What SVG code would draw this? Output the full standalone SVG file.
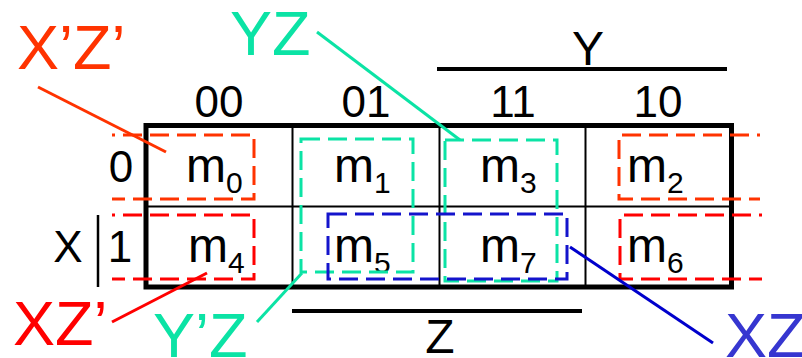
<svg xmlns="http://www.w3.org/2000/svg" width="802" height="358" viewBox="0 0 802 358">
<style>
text{font-family:"Liberation Sans",Arial,sans-serif;fill:#000}
.hd{font-size:44px;text-anchor:middle}
.vb{font-size:48px;text-anchor:middle}
.m{font-size:48px}
.sub{font-size:30px}
.lbl{font-size:63px}
.thick{stroke:#000;stroke-width:5;fill:none}
.thin{stroke:#000;stroke-width:2;fill:none}
.bar{stroke:#000;stroke-width:4;fill:none}
.dash{fill:none;stroke-width:3;stroke-dasharray:19 8}
.wrap{stroke-dashoffset:16}
.or{stroke:#FF3300}
.rd{stroke:#FF0000}
.tl{stroke:#0BE3A5}
.bl{stroke:#1414CC}
.conn{stroke-width:3;fill:none}
</style>
<rect width="802" height="358" fill="#fff"/>
<g id="grid">
<path class="thin" d="M146 206.5H731M292.5 128V287M439.5 128V287M585.5 128V287"/>
<path class="thick" d="M146 125.5H734M146 123V289.5M731.5 123V289.5M146 287H734"/>
<path class="bar" d="M437 69H727M292 311H582"/>
<path d="M98 215V287" stroke="#000" stroke-width="2.5"/>
</g>
<g id="headers">
<text class="hd" x="219" y="117">00</text>
<text class="hd" x="366" y="117">01</text>
<text class="hd" x="513" y="117">11</text>
<text class="hd" x="658" y="117">10</text>
<text class="vb" x="588" y="65">Y</text>
<text class="vb" x="440" y="353">Z</text>
<text class="hd" x="121" y="182">0</text>
<text class="hd" x="120" y="262">1</text>
<text class="hd" x="68" y="262">X</text>
</g>
<g id="cell-m0"><text class="m" x="186" y="182">m<tspan class="sub" dy="11">0</tspan></text></g>
<g id="cell-m1"><text class="m" x="334" y="182">m<tspan class="sub" dy="11">1</tspan></text></g>
<g id="cell-m3"><text class="m" x="480" y="182">m<tspan class="sub" dy="11">3</tspan></text></g>
<g id="cell-m2"><text class="m" x="627" y="182">m<tspan class="sub" dy="11">2</tspan></text></g>
<g id="cell-m4"><text class="m" x="188" y="262">m<tspan class="sub" dy="11">4</tspan></text></g>
<g id="cell-m5"><text class="m" x="334" y="262">m<tspan class="sub" dy="11">5</tspan></text></g>
<g id="cell-m7"><text class="m" x="480" y="262">m<tspan class="sub" dy="11">7</tspan></text></g>
<g id="cell-m6"><text class="m" x="627" y="262">m<tspan class="sub" dy="11">6</tspan></text></g>
<g id="group-XpZp">
<path class="dash wrap or" d="M112 135H254V199H112"/>
<path class="dash wrap or" d="M760 135H619V199H760"/>
<text class="lbl" x="17" y="69" style="fill:#FF3300">X’Z’</text>
</g>
<g id="group-XZp">
<path class="dash wrap rd" d="M112 215H254V279H112"/>
<path class="dash wrap rd" d="M762 215H620V279H762"/>
<text class="lbl" x="13" y="345" style="fill:#FF0000">XZ’</text>
</g>
<g id="group-YpZ">
<rect class="dash tl" x="301" y="139" width="112" height="133"/>
<text class="lbl" x="153" y="357" style="fill:#0BE3A5">Y’Z</text>
</g>
<g id="group-YZ">
<rect class="dash tl" x="445" y="140" width="112" height="141"/>
<text class="lbl" x="230" y="55" style="fill:#0BE3A5">YZ</text>
</g>
<g id="group-XZ">
<rect class="dash bl" x="328" y="214" width="239" height="65"/>
<text class="lbl" x="725" y="357" style="fill:#3636D0">XZ</text>
</g>
<g id="connectors">
<path class="conn or" d="M38 87L166 152"/>
<path class="conn tl" d="M317 32L460 140"/>
<path class="conn rd" d="M112 322L207 273"/>
<path class="conn tl" d="M257 322L302 273"/>
<path class="conn" stroke="#0000CC" d="M570 247L713 343"/>
</g>
</svg>
